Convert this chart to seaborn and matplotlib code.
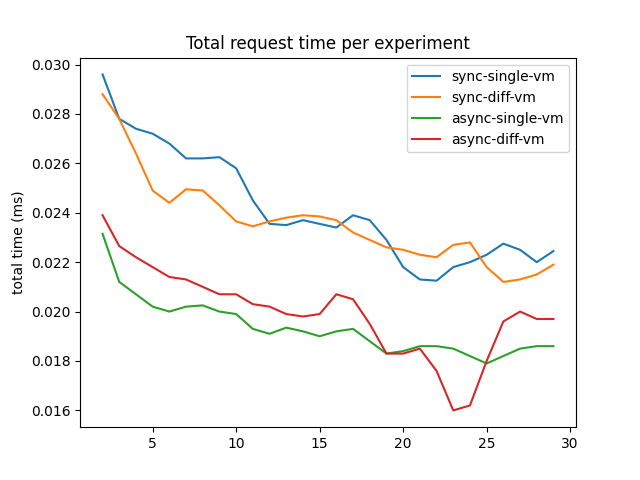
import numpy as np
import pandas as pd
import matplotlib
matplotlib.use("Agg")
import matplotlib.pyplot as plt
import seaborn as sns

experiments = list(range(2, 30))
sync_single_vm = [0.0296, 0.0278, 0.0274, 0.0272, 0.0268, 0.0262, 0.0262, 0.02625, 0.0258, 0.0245,
                  0.02355, 0.0235, 0.0237, 0.02355, 0.0234, 0.0239, 0.0237, 0.0229, 0.0218, 0.0213,
                  0.02125, 0.0218, 0.0220, 0.0223, 0.02275, 0.0225, 0.0220, 0.02245]
sync_diff_vm = [0.0288, 0.0278, 0.0264, 0.0249, 0.0244, 0.02495, 0.0249, 0.0243, 0.02365, 0.02345,
                0.02365, 0.0238, 0.0239, 0.02385, 0.0237, 0.0232, 0.0229, 0.0226, 0.0225, 0.0223,
                0.0222, 0.0227, 0.0228, 0.0218, 0.0212, 0.0213, 0.0215, 0.0219]
async_single_vm = [0.02315, 0.0212, 0.0207, 0.0202, 0.0200, 0.0202, 0.02025, 0.0200, 0.0199, 0.0193,
                   0.0191, 0.01935, 0.0192, 0.0190, 0.0192, 0.0193, 0.0188, 0.0183, 0.0184, 0.0186,
                   0.0186, 0.0185, 0.0182, 0.0179, 0.0182, 0.0185, 0.0186, 0.0186]
async_diff_vm = [0.0239, 0.02265, 0.0222, 0.0218, 0.0214, 0.0213, 0.0210, 0.0207, 0.0207, 0.0203,
                 0.0202, 0.0199, 0.0198, 0.0199, 0.0207, 0.0205, 0.0195, 0.0183, 0.0183, 0.0185,
                 0.0176, 0.0160, 0.0162, 0.0180, 0.0196, 0.0200, 0.0197, 0.0197]

series = {
    'sync-single-vm': sync_single_vm,
    'sync-diff-vm': sync_diff_vm,
    'async-single-vm': async_single_vm,
    'async-diff-vm': async_diff_vm,
}
df = pd.concat([pd.DataFrame({'experiment': experiments, 'time': v, 'kind': k})
                for k, v in series.items()], ignore_index=True)

fig, ax = plt.subplots(figsize=(6.4, 4.8), dpi=100)
sns.lineplot(data=df, x='experiment', y='time', hue='kind', hue_order=list(series),
             palette=['#1f77b4', '#ff7f0e', '#2ca02c', '#d62728'], ax=ax)
ax.set_title('Total request time per experiment')
ax.set_xlabel('')
ax.set_ylabel('total time (ms)')
ax.legend(title=None, loc='upper right')
plt.savefig('out.png')
